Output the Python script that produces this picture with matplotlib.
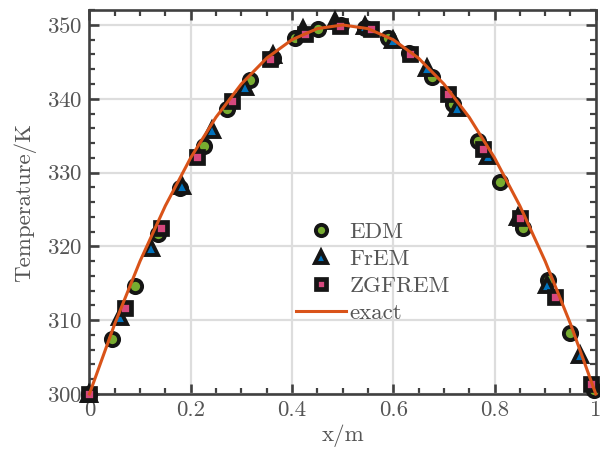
import numpy as np
import matplotlib
matplotlib.use("Agg")
import matplotlib.pyplot as plt
from matplotlib.ticker import MultipleLocator

###############################################################################
# Data
edm_x = [0.0, 0.045, 0.090, 0.136, 0.179, 0.227, 0.271, 0.317, 0.362, 0.406, 0.452, 0.497,
         0.545, 0.590, 0.632, 0.677, 0.718, 0.768, 0.810, 0.857, 0.906, 0.950, 0.996]
edm_t = [300.0, 307.4, 314.7, 321.7, 327.9, 333.6, 338.6, 342.5, 345.5, 348.2, 349.5, 350.0,
         349.6, 348.2, 346.2, 342.9, 339.3, 334.3, 328.7, 322.5, 315.5, 308.2, 300.6]

frem_x = [0.0, 0.060, 0.121, 0.182, 0.243, 0.307, 0.362, 0.421, 0.485, 0.544, 0.600,
          0.666, 0.725, 0.787, 0.847, 0.903, 0.968]
frem_t = [300.0, 310.4, 319.8, 328.2, 335.8, 341.6, 345.9, 349.4, 350.5, 349.8, 348.0,
          344.2, 338.8, 332.2, 324.0, 314.8, 305.3]

zg_x = [0.0, 0.070, 0.142, 0.212, 0.281, 0.357, 0.425, 0.495, 0.557, 0.633, 0.708,
        0.777, 0.850, 0.919, 0.991]
zg_t = [300.0, 311.7, 322.5, 332.1, 339.7, 345.4, 348.8, 349.8, 349.4, 346.0, 340.6,
        333.2, 323.8, 313.1, 301.4]

exact_x = [0.0, 0.05, 0.10, 0.15, 0.20, 0.25, 0.30, 0.35, 0.40, 0.45, 0.50,
           0.55, 0.60, 0.65, 0.70, 0.75, 0.80, 0.85, 0.90, 0.95, 1.0]
exact_t = [300.0, 309.5, 318.0, 325.5, 332.0, 337.5, 342.0, 345.5, 348.0, 349.5, 350.0,
           349.5, 348.0, 345.5, 342.0, 337.5, 332.0, 325.5, 318.0, 309.5, 300.0]

xticks = [0, 0.2, 0.4, 0.6, 0.8, 1]
xticklabels = ['0', '0.2', '0.4', '0.6', '0.8', '1']
yticks = [300, 310, 320, 330, 340, 350]

###############################################################################
# Style
plt.rcParams['font.family'] = 'serif'
plt.rcParams['font.serif'] = ['cmr10', 'DejaVu Serif']
plt.rcParams['mathtext.fontset'] = 'cm'
plt.rcParams['axes.formatter.use_mathtext'] = True

text_c = '#555555'
spine_c = '#404040'
edge_c = '#151515'
fs = 16.5

fig = plt.figure(figsize=(6.0, 4.63), dpi=100)
ax = fig.add_axes([0.149, 0.149, 0.844, 0.829])

ax.plot(edm_x, edm_t, 'o', ms=9.5, mfc='#77AC30', mec=edge_c, mew=2.8,
        clip_on=False, label='EDM', zorder=3)
ax.plot(frem_x, frem_t, '^', ms=10.5, mfc='#0072BD', mec=edge_c, mew=2.8,
        clip_on=False, label='FrEM', zorder=3)
ax.plot(zg_x, zg_t, 's', ms=8.5, mfc='#D6487E', mec=edge_c, mew=3.4,
        clip_on=False, label='ZGFREM', zorder=3)
ax.plot(exact_x, exact_t, '-', color='#D95319', lw=2.2, label='exact',
        clip_on=False, zorder=4)

ax.set_xlim(0, 1)
ax.set_ylim(300, 352)
ax.set_xticks(xticks)
ax.set_xticklabels(xticklabels)
ax.set_yticks(yticks)
ax.xaxis.set_minor_locator(MultipleLocator(0.05))
ax.yaxis.set_minor_locator(MultipleLocator(2))

ax.grid(True, which='major', color='#dddddd', lw=1.6, zorder=0)
ax.set_axisbelow(True)

for s in ax.spines.values():
    s.set_color(spine_c)
    s.set_linewidth(1.9)

ax.tick_params(which='both', direction='in', top=True, right=True,
               color=spine_c, labelcolor=text_c, labelsize=fs, pad=5)
ax.tick_params(which='major', length=7, width=1.9)
ax.tick_params(which='minor', length=4, width=1.6)

ax.set_xlabel('x/m', fontsize=fs, color=text_c, labelpad=3)
ax.set_ylabel('Temperature/K', fontsize=fs, color=text_c, labelpad=8)

leg = ax.legend(loc='upper left', bbox_to_anchor=(0.408, 0.447), frameon=False,
                fontsize=fs, numpoints=1, handlelength=2.2, handletextpad=0.12,
                labelspacing=0.3, borderpad=0, borderaxespad=0, markerscale=0.85)
for t in leg.get_texts():
    t.set_color(text_c)

fig.savefig('out.png', dpi=100)
